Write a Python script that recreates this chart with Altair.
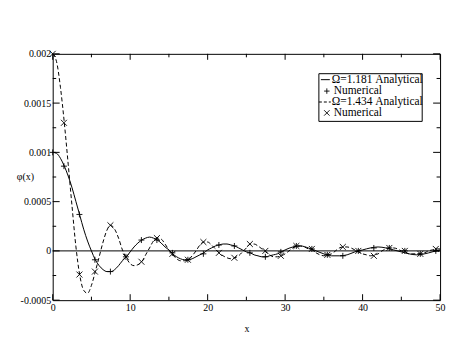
import altair as alt
import pandas as pd

# ---------------- data ----------------
x_major = [0, 10, 20, 30, 40, 50]
x_minor = [5, 15, 25, 35, 45]
y_major = [-0.0005, 0, 0.0005, 0.001, 0.0015, 0.002]
y_minor = [-0.00025, 0.00025, 0.00075, 0.00125, 0.00175]

# Analytical curve, Omega = 1.181 (solid)
a1_x = [0, 0.5, 1, 1.5, 2, 2.5, 3, 3.5, 4, 4.5, 5, 5.5, 6, 6.5, 7, 7.5, 8, 8.5, 9, 9.5,
        10, 10.5, 11, 11.5, 12, 12.5, 13, 13.5, 14, 14.5, 15, 15.5, 16, 16.5, 17, 17.5,
        18, 18.5, 19, 19.5, 20, 20.5, 21, 21.5, 22, 22.5, 23, 23.5, 24, 24.5, 25, 25.5,
        26, 26.5, 27, 27.5, 28, 28.5, 29, 29.5, 30, 31, 32, 33, 34, 35, 36, 37, 38, 39,
        40, 41, 42, 43, 44, 45, 46, 47, 48, 49, 50]
a1_y = [0.00100, 0.00099, 0.00094, 0.00086, 0.00076, 0.00064, 0.00050, 0.00036, 0.00022,
        0.00010, 0.00000, -0.00009, -0.00015, -0.00019, -0.00021, -0.00021, -0.00019,
        -0.00015, -0.00010, -0.00006, -0.00001, 0.00004, 0.00008, 0.00011, 0.00013,
        0.00014, 0.00013, 0.00011, 0.00008, 0.00004, 0.00001, -0.00003, -0.00006,
        -0.00008, -0.00009, -0.00009, -0.00008, -0.00006, -0.00004, -0.00002, 0.00001,
        0.00003, 0.00005, 0.00006, 0.00007, 0.00007, 0.00006, 0.00005, 0.00003, 0.00001,
        -0.00001, -0.00002, -0.00004, -0.00005, -0.00006, -0.00006, -0.00005, -0.00004,
        -0.00003, -0.00001, 0.00001, 0.00004, 0.00005, 0.00003, 0.00000, -0.00003,
        -0.00005, -0.00005, -0.00004, -0.00001, 0.00001, 0.00003, 0.00004, 0.00003,
        0.00001, -0.00001, -0.00003, -0.00004, -0.00003, -0.00001, 0.00001]

# Analytical curve, Omega = 1.434 (dashed)
a2_x = [0, 0.5, 1, 1.5, 2, 2.5, 3, 3.5, 4, 4.5, 5, 5.5, 6, 6.5, 7, 7.5, 8, 8.5, 9, 9.5,
        10, 10.5, 11, 11.5, 12, 12.5, 13, 13.5, 14, 14.5, 15, 15.5, 16, 16.5, 17, 17.5,
        18, 18.5, 19, 19.5, 20, 20.5, 21, 21.5, 22, 22.5, 23, 23.5, 24, 24.5, 25, 25.5,
        26, 26.5, 27, 27.5, 28, 28.5, 29, 29.5, 30, 30.5, 31, 31.5, 32, 32.5, 33, 33.5,
        34, 34.5, 35, 35.5, 36, 36.5, 37, 37.5, 38, 38.5, 39, 39.5, 40, 40.5, 41, 41.5,
        42, 42.5, 43, 43.5, 44, 44.5, 45, 45.5, 46, 46.5, 47, 47.5, 48, 48.5, 49, 49.5, 50]
a2_y = [0.00200, 0.00192, 0.00166, 0.00130, 0.00088, 0.00045, 0.00004, -0.00025, -0.00040,
        -0.00043, -0.00035, -0.00021, -0.00006, 0.00009, 0.00021, 0.00026, 0.00022,
        0.00013, 0.00001, -0.00007, -0.00013, -0.00015, -0.00014, -0.00011, -0.00004,
        0.00003, 0.00010, 0.00013, 0.00012, 0.00007, 0.00001, -0.00004, -0.00008,
        -0.00010, -0.00010, -0.00009, -0.00005, 0.00000, 0.00006, 0.00009, 0.00009,
        0.00006, 0.00002, -0.00002, -0.00005, -0.00007, -0.00008, -0.00007, -0.00005,
        -0.00001, 0.00003, 0.00007, 0.00007, 0.00005, 0.00002, -0.00001, -0.00004,
        -0.00006, -0.00006, -0.00005, -0.00003, 0.00000, 0.00003, 0.00005, 0.00005,
        0.00004, 0.00002, 0.00001, -0.00002, -0.00004, -0.00005, -0.00004, -0.00003,
        0.00000, 0.00003, 0.00004, 0.00004, 0.00003, 0.00001, -0.00001, -0.00003,
        -0.00004, -0.00005, -0.00004, -0.00003, 0.00000, 0.00002, 0.00003, 0.00003,
        0.00002, 0.00000, -0.00001, -0.00003, -0.00003, -0.00003, -0.00003, -0.00002,
        0.00000, 0.00001, 0.00002, 0.00002]

# Numerical points
num_x = [0, 1.45, 3.45, 5.45, 7.45, 9.45, 11.45, 13.45, 15.45, 17.45, 19.45, 21.45, 23.45,
         25.45, 27.45, 29.45, 31.45, 33.45, 35.45, 37.45, 39.45, 41.45, 43.45, 45.45,
         47.45, 49.45]
n1_y = [0.00100, 0.00086, 0.00037, -0.00009, -0.00021, -0.00006, 0.00011, 0.00011,
        -0.00002, -0.00009, -0.00003, 0.00006, 0.00005, -0.00002, -0.00006, -0.00001,
        0.00005, 0.00002, -0.00004, -0.00005, 0.00000, 0.00003, 0.00003, 0.00000,
        -0.00003, 0.00000]
n2_y = [0.00200, 0.00130, -0.00024, -0.00021, 0.00026, -0.00006, -0.00011, 0.00013,
        -0.00003, -0.00009, 0.00009, -0.00002, -0.00007, 0.00007, 0.00000, -0.00005,
        0.00005, 0.00002, -0.00004, 0.00004, 0.00000, -0.00005, 0.00003, 0.00000,
        -0.00003, 0.00002]

legend_labels = ["\u03a9=1.181 Analytical", "Numerical", "\u03a9=1.434 Analytical", "Numerical"]
x_title = "x"
y_title = "\u03c6(x)"

# ---------------- styling ----------------
FONT = "'Liberation Serif', 'Times New Roman', Times, serif"
INK = "black"
W, H = 390, 248
PLUS = "M-1,0L1,0M0,-1L0,1"
CROSS = "M-1,-1L1,1M-1,1L1,-1"

xs = alt.Scale(domain=[0, 50], nice=False, zero=False)
ys = alt.Scale(domain=[-0.0005, 0.002], nice=False, zero=False)

x_axis = alt.Axis(values=x_major, ticks=False, domain=False, grid=False, labelFlush=False,
                  labelOverlap=False, labelFont=FONT, labelFontSize=10, labelColor=INK,
                  labelPadding=2, format="d", title=x_title, titleFont=FONT,
                  titleFontSize=10, titleFontWeight="normal", titleColor=INK,
                  titleY=32, titleBaseline="alphabetic")
y_axis = alt.Axis(values=y_major, ticks=False, domain=False, grid=False, labelFlush=False,
                  labelOverlap=False, labelFont=FONT, labelFontSize=10, labelColor=INK,
                  labelPadding=2, labelExpr="toString(datum.value)", title=y_title,
                  titleFont=FONT, titleFontSize=10, titleFontWeight="normal",
                  titleColor=INK, titleAngle=0, titleX=-28, titleY=124,
                  titleAlign="center", titleBaseline="middle")

df1 = pd.DataFrame({"x": a1_x, "y": a1_y})
df2 = pd.DataFrame({"x": a2_x, "y": a2_y})
dn1 = pd.DataFrame({"x": num_x, "y": n1_y})
dn2 = pd.DataFrame({"x": num_x, "y": n2_y})

curve1 = alt.Chart(df1).mark_line(color=INK, strokeWidth=1, interpolate="monotone", clip=True).encode(
    x=alt.X("x:Q", scale=xs, axis=x_axis),
    y=alt.Y("y:Q", scale=ys, axis=y_axis),
)
curve2 = alt.Chart(df2).mark_line(color=INK, strokeWidth=1, strokeDash=[4, 2.5],
                                  interpolate="monotone", clip=True).encode(
    x=alt.X("x:Q", scale=xs), y=alt.Y("y:Q", scale=ys))

zero_line = alt.Chart(pd.DataFrame({"y": [0]})).mark_rule(color=INK, strokeWidth=1).encode(
    y=alt.Y("y:Q", scale=ys))

pts1 = alt.Chart(dn1).mark_point(shape=PLUS, size=36, filled=False, color=INK,
                                 strokeWidth=0.9, opacity=1).encode(
    x=alt.X("x:Q", scale=xs), y=alt.Y("y:Q", scale=ys))
pts2 = alt.Chart(dn2).mark_point(shape=CROSS, size=36, filled=False, color=INK,
                                 strokeWidth=0.9, opacity=1).encode(
    x=alt.X("x:Q", scale=xs), y=alt.Y("y:Q", scale=ys))


# inward ticks on all four sides
def xticks(vals, length):
    d = pd.DataFrame({"v": vals})
    bottom = alt.Chart(d).mark_rule(color=INK, strokeWidth=1).encode(
        x=alt.X("v:Q", scale=xs), y=alt.value(H), y2=alt.value(H - length))
    top = alt.Chart(d).mark_rule(color=INK, strokeWidth=1).encode(
        x=alt.X("v:Q", scale=xs), y=alt.value(0), y2=alt.value(length))
    return [bottom, top]


def yticks(vals, length):
    d = pd.DataFrame({"v": vals})
    left = alt.Chart(d).mark_rule(color=INK, strokeWidth=1).encode(
        y=alt.Y("v:Q", scale=ys), x=alt.value(0), x2=alt.value(length))
    right = alt.Chart(d).mark_rule(color=INK, strokeWidth=1).encode(
        y=alt.Y("v:Q", scale=ys), x=alt.value(W), x2=alt.value(W - length))
    return [left, right]


ticks = xticks(x_major, 6) + xticks(x_minor, 3.5) + yticks(y_major, 7) + yticks(y_minor, 3.5)

# legend (manual, Grace-style)
one = pd.DataFrame({"a": [0]})
leg_box = alt.Chart(one).mark_rect(fill="white", stroke=INK, strokeWidth=1).encode(
    x=alt.value(268), x2=alt.value(372), y=alt.value(20), y2=alt.value(68))
row_y = [26, 37.5, 48.5, 59.5]
text_x = [281, 283, 281, 283]
leg = [leg_box]
leg.append(alt.Chart(one).mark_rule(color=INK, strokeWidth=1).encode(
    x=alt.value(270), x2=alt.value(279), y=alt.value(row_y[0])))
leg.append(alt.Chart(one).mark_point(shape=PLUS, size=30, filled=False, color=INK,
                                     strokeWidth=0.9, opacity=1).encode(
    x=alt.value(276), y=alt.value(row_y[1])))
leg.append(alt.Chart(one).mark_rule(color=INK, strokeWidth=1, strokeDash=[3, 2]).encode(
    x=alt.value(268), x2=alt.value(280), y=alt.value(row_y[2])))
leg.append(alt.Chart(one).mark_point(shape=CROSS, size=30, filled=False, color=INK,
                                     strokeWidth=0.9, opacity=1).encode(
    x=alt.value(276), y=alt.value(row_y[3])))
for lab, yy, tx in zip(legend_labels, row_y, text_x):
    leg.append(alt.Chart(one).mark_text(align="left", baseline="middle", font=FONT,
                                        fontSize=11.5, color=INK).encode(
        x=alt.value(tx), y=alt.value(yy), text=alt.value(lab)))

chart = alt.layer(curve1, curve2, zero_line, pts1, pts2, *ticks, *leg).properties(
    width=W, height=H,
    autosize=alt.AutoSizeParams(type="none"),
    padding={"left": 45, "top": 45, "right": 10, "bottom": 45},
).configure_view(stroke=INK, strokeWidth=1)

chart.save("out.html", embed_options={"renderer": "svg", "actions": False})
